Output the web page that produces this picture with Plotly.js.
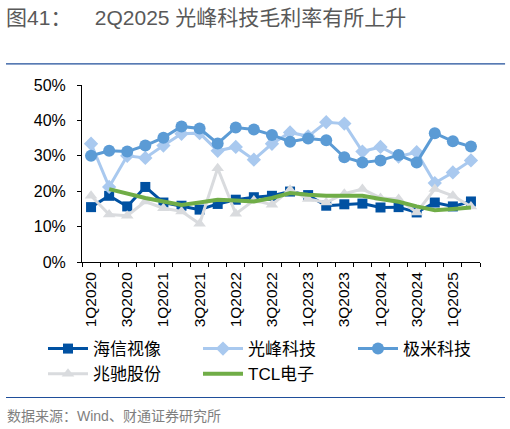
<!DOCTYPE html>
<html>
<head>
<meta charset="utf-8">
<script src="https://cdn.plot.ly/plotly-3.0.1.min.js"></script>
<style>
  html, body { margin: 0; padding: 0; background: #fff; }
  #wrap { position: relative; width: 510px; height: 429px; }
  #chart { width: 510px; height: 429px; }
  #rule { position: absolute; left: 6px; top: 397px; width: 499px; height: 0;
    border-top: 1px solid #1F4E9A; pointer-events: none; }
</style>
</head>
<body>
<div id="wrap">
  <div id="chart"></div>
  <div id="rule"></div>
</div>
<script>
  const quarters = ['1Q2020', '2Q2020', '3Q2020', '4Q2020', '1Q2021', '2Q2021', '3Q2021', '4Q2021',
    '1Q2022', '2Q2022', '3Q2022', '4Q2022', '1Q2023', '2Q2023', '3Q2023', '4Q2023',
    '1Q2024', '2Q2024', '3Q2024', '4Q2024', '1Q2025', '2Q2025'];

  // gross margin, %
  const hisense = [15.5, 18.7, 15.7, 21.2, 16.8, 15.9, 14.8, 16.4, 17.6, 18.3, 18.7, 19.9,
    18.9, 15.9, 16.3, 16.5, 15.4, 15.5, 14.0, 16.8, 15.7, 17.1];
  const appotronics = [33.4, 21.2, 30.0, 29.4, 32.9, 36.2, 36.4, 31.4, 32.5, 28.9, 33.4, 36.6,
    35.5, 39.5, 39.1, 31.2, 32.5, 29.8, 31.0, 22.3, 25.3, 28.7];
  const xgimi = [30.0, 31.4, 31.2, 32.9, 35.1, 38.3, 37.7, 33.5, 38.0, 37.4, 35.9, 34.0,
    34.9, 34.4, 29.6, 28.1, 28.7, 30.2, 28.1, 36.4, 34.1, 32.6];
  const mtc = [18.7, 13.4, 13.1, 17.1, 15.2, 14.3, 10.8, 26.5, 13.6, 17.4, 16.2, 20.4,
    17.8, 16.8, 19.3, 20.6, 18.1, 17.8, 14.0, 20.6, 18.7, 15.7];
  const tcl = [null, 20.6, 19.3, 18.1, 17.1, 16.1, 16.8, 17.6, 17.4, 17.1, 18.1, 19.5,
    19.0, 18.7, 18.7, 18.7, 17.8, 17.0, 15.7, 14.6, 15.0, 15.4];

  const font = 'Liberation Sans, Arial, "Noto Sans CJK SC", sans-serif';
  const pct = (arr) => arr.map((v) => (v == null ? null : v / 100));

  const series = [
    { name: '海信视像', y: hisense, color: '#0051A2', symbol: 'square', size: 10 },
    { name: '光峰科技', y: appotronics, color: '#A9C9EF', symbol: 'diamond', size: 11 },
    { name: '极米科技', y: xgimi, color: '#5B9BD5', symbol: 'circle', size: 12 },
    { name: '兆驰股份', y: mtc, color: '#D9DBDE', symbol: 'triangle-up', size: 11 }
  ];

  const traces = series.map((s) => ({
    type: 'scatter',
    mode: 'lines+markers',
    name: s.name,
    x: quarters,
    y: pct(s.y),
    line: { color: s.color, width: 3 },
    marker: { color: s.color, symbol: s.symbol, size: s.size }
  }));
  traces.push({
    type: 'scatter',
    mode: 'lines',
    name: 'TCL电子',
    x: quarters,
    y: pct(tcl),
    line: { color: '#70AD47', width: 4 }
  });

  const layout = {
    width: 510,
    height: 429,
    margin: { l: 82, r: 30, t: 85, b: 167, autoexpand: false },
    paper_bgcolor: '#fff',
    plot_bgcolor: '#fff',
    font: { family: font, color: '#000', size: 14 },
    showlegend: true,
    title: {
      text: '图41：    2Q2025 光峰科技毛利率有所上升',
      font: { family: font, size: 21, color: '#595959' },
      xref: 'container', x: 0.012, xanchor: 'left',
      yref: 'container', y: 0.958, yanchor: 'middle'
    },
    xaxis: {
      type: 'category',
      categoryarray: quarters,
      range: [-0.5, quarters.length - 0.5],
      tickmode: 'array',
      tickvals: quarters,
      ticktext: quarters.map((q, i) => (i % 2 ? '' : q)),
      tickson: 'boundaries',
      tickangle: -90,
      ticks: 'outside',
      ticklen: 4,
      tickcolor: '#000',
      ticklabelstandoff: 3,
      tickfont: { size: 15.5, color: '#000' },
      showline: true,
      linecolor: '#000',
      linewidth: 1,
      showgrid: false,
      zeroline: false,
      automargin: false,
      fixedrange: true
    },
    yaxis: {
      range: [0, 0.5],
      dtick: 0.1,
      tickformat: '.0%',
      ticks: 'outside',
      ticklen: 4,
      tickcolor: '#000',
      ticklabelstandoff: 8,
      tickfont: { size: 16, color: '#000' },
      showline: true,
      linecolor: '#000',
      linewidth: 1,
      showgrid: false,
      zeroline: false,
      automargin: false,
      fixedrange: true
    },
    legend: {
      orientation: 'h',
      x: -0.098, xanchor: 'left',
      y: -0.39, yanchor: 'top',
      bgcolor: 'rgba(0,0,0,0)',
      itemwidth: 40,
      entrywidth: 100,
      entrywidthmode: 'pixels',
      font: { size: 17, color: '#000' },
      tracegroupgap: 0
    },
    shapes: [
      { type: 'line', xref: 'paper', yref: 'paper', x0: -0.191, x1: 1.063, y0: 1.119, y1: 1.119,
        line: { color: '#1F4E9A', width: 1.2 } }
    ],
    annotations: [
      { text: '数据来源：Wind、财通证券研究所', xref: 'paper', yref: 'paper', x: -0.193, y: -0.87,
        xanchor: 'left', yanchor: 'middle', showarrow: false,
        font: { family: font, size: 14, color: '#7F7F7F' } }
    ]
  };

  Plotly.newPlot('chart', traces, layout, { displayModeBar: false, responsive: false });
</script>
</body>
</html>
